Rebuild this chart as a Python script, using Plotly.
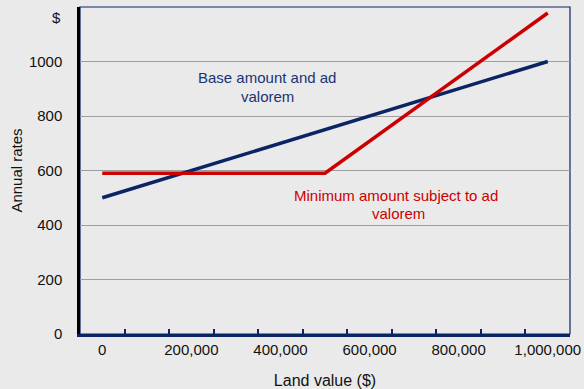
import plotly.graph_objects as go

# Data
land_value = [0, 500000, 1000000]
base_rates = [500, 750, 1000]
minimum_rates = [590, 590, 1178]

x_tick_vals = [0, 200000, 400000, 600000, 800000, 1000000]
x_tick_text = ["0", "200,000", "400,000", "600,000", "800,000", "1,000,000"]
x_boundary_ticks = [50000, 150000, 250000, 350000, 450000, 550000, 650000, 750000, 850000, 950000]
y_tick_vals = [0, 200, 400, 600, 800, 1000]
y_tick_text = ["0", "200", "400", "600", "800", "1000"]

NAVY = "#0B2463"
RED = "#CC0000"
BG = "#EAEAEA"
FONT = "Liberation Sans, Arial, sans-serif"

fig = go.Figure()
fig.add_trace(go.Scatter(x=land_value, y=base_rates, mode="lines",
                         line=dict(color=NAVY, width=3.5), showlegend=False))
fig.add_trace(go.Scatter(x=land_value, y=minimum_rates, mode="lines", xaxis="x2",
                         line=dict(color=RED, width=3.5), showlegend=False))

ann_font_blue = dict(color="#1A3375", size=15, family=FONT)
ann_font_red = dict(color=RED, size=15, family=FONT)
fig.add_annotation(x=370000, y=940, xref="x", yref="y", text="Base amount and ad",
                   showarrow=False, font=ann_font_blue)
fig.add_annotation(x=370000, y=873, xref="x", yref="y", text="valorem",
                   showarrow=False, font=ann_font_blue)
fig.add_annotation(x=660000, y=508, xref="x", yref="y", text="Minimum amount subject to ad",
                   showarrow=False, font=ann_font_red)
fig.add_annotation(x=664000, y=442, xref="x", yref="y", text="valorem",
                   showarrow=False, font=ann_font_red)
fig.add_annotation(x=-0.061, y=1160, xref="paper", yref="y", text="$",
                   showarrow=False, font=dict(color="#111111", size=15, family=FONT))

# plot border (top/right thin navy)
fig.add_shape(type="rect", xref="paper", yref="paper", x0=0, x1=1, y0=0, y1=1,
              line=dict(color=NAVY, width=1.2), layer="below")

fig.update_layout(
    width=584, height=389,
    margin=dict(l=80, r=14, t=7, b=55),
    paper_bgcolor=BG, plot_bgcolor=BG,
    font=dict(family=FONT, size=15, color="#111111"),
    xaxis=dict(range=[-50000, 1050000], tickvals=x_tick_vals, ticktext=x_tick_text,
               showgrid=False, zeroline=False, showline=True, linecolor=NAVY, linewidth=2.5,
               ticks="", ticklabelstandoff=0, automargin=False,
               title=dict(text="Land value ($)", standoff=20, font=dict(size=16))),
    xaxis2=dict(range=[-50000, 1050000], overlaying="x", side="bottom",
                tickvals=x_boundary_ticks, showticklabels=False, ticks="inside",
                ticklen=5, tickwidth=1.5, tickcolor=NAVY, showgrid=False,
                zeroline=False, showline=False, automargin=False),
    yaxis=dict(range=[0, 1200], tickvals=y_tick_vals, ticktext=y_tick_text,
               showgrid=True, gridcolor="#9E9E9E", gridwidth=1, zeroline=False,
               showline=True, linecolor="#000000", linewidth=2.5, ticks="",
               ticklabelstandoff=12, automargin=False,
               title=dict(text="Annual rates", standoff=3, font=dict(size=15))),
)

fig.write_html("out.html")
